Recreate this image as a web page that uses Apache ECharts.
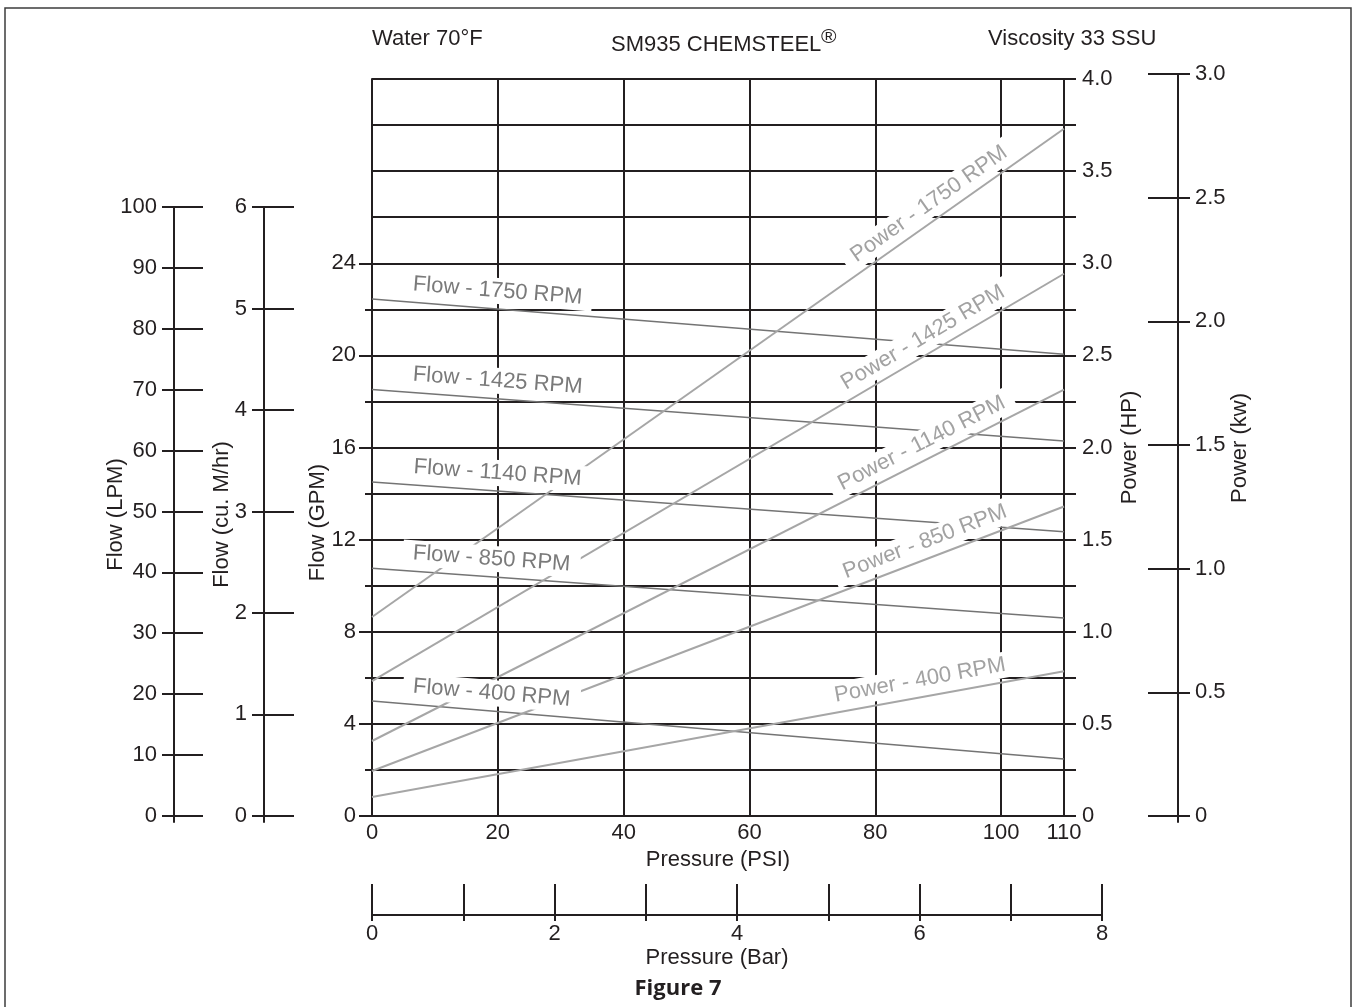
<!DOCTYPE html>
<html><head><meta charset="utf-8">
<script src="https://cdn.jsdelivr.net/npm/echarts@6/dist/echarts.min.js"></script>
<style>html,body{margin:0;padding:0;background:#fff}#c{width:1359px;height:1007px}</style>
</head><body><div id="c"></div>
<script>
// ---------- data ----------
const pressurePSI = [0, 110];
const rpmNames = ['1750', '1425', '1140', '850', '400'];
const flow1750 = [22.45, 20.05];
const flow1425 = [18.52, 16.28];
const flow1140 = [14.5, 12.34];
const flow850 = [10.76, 8.6];
const flow400 = [4.99, 2.47];
const power1750 = [1.08, 3.73];
const power1425 = [0.732, 2.943];
const power1140 = [0.407, 2.314];
const power850 = [0.244, 1.68];
const power400 = [0.103, 0.786];

const gpmLabels = [0, 4, 8, 12, 16, 20, 24];
const gpmMinorTicks = [2, 6, 10, 14, 18, 22];
const hpLabels = [0, 0.5, 1, 1.5, 2, 2.5, 3, 3.5, 4];
const psiLabels = [0, 20, 40, 60, 80, 100, 110];
const lpmLabels = [0, 10, 20, 30, 40, 50, 60, 70, 80, 90, 100];
const cumLabels = [0, 1, 2, 3, 4, 5, 6];
const kwLabels = [0, 0.5, 1, 1.5, 2, 2.5, 3];
const barTicks = [0, 1, 2, 3, 4, 5, 6, 7, 8];
const barLabels = [0, 2, 4, 6, 8];

// ---------- style / layout ----------
const FONT = "'Liberation Sans', Arial, Helvetica, sans-serif";
const INK = '#231f20';
const FLOW_COLOR = '#747474';
const POWER_COLOR = '#a6a6a6';
const FLOW_TEXT = '#7a7a7a';
const POWER_TEXT = '#a2a2a2';
const flowLabelAlong = [125, 125, 125, 119, 119];   // px along the line from its start
const powerLabelAlong = [-156, -156, -153, -144, -144]; // px along the line from its end

const flowSets = [flow1750, flow1425, flow1140, flow850, flow400];
const powerSets = [power1750, power1425, power1140, power850, power400];

function pts(vals) { return pressurePSI.map((p, i) => [p, vals[i]]); }
function fmt1(v) { return v === 0 ? '0' : v.toFixed(1); }

const axisText = { color: INK, fontSize: 22, fontFamily: FONT };
const lineSty = { color: INK, width: 2 };
const axLine = { show: true, onZero: false, lineStyle: lineSty };
const noLine = { show: false, onZero: false };

const chart = echarts.init(document.getElementById('c'), null, { renderer: 'canvas' });

function hiddenX(g) { return { gridIndex: g, type: 'value', show: false, min: 0, max: 1, axisLine: noLine }; }
function yName(text, gap, extra) {
  return { name: text, nameLocation: 'middle', nameRotate: 90, nameGap: gap, nameMoveOverlap: false,
    nameTextStyle: Object.assign({}, axisText, extra || {}) };
}

const option = {
  animation: false,
  backgroundColor: '#fff',
  grid: [
    { left: 372, right: 295, top: 79, bottom: 191, outerBoundsMode: 'none' },
    { left: 174, width: 40, top: 207, bottom: 185, outerBoundsMode: 'none' },
    { left: 264, width: 40, top: 207, bottom: 185, outerBoundsMode: 'none' },
    { left: 1100, right: 181, top: 74, bottom: 185, outerBoundsMode: 'none' },
    { left: 372, right: 257, top: 880, bottom: 92, outerBoundsMode: 'none' }
  ],
  xAxis: [
    { gridIndex: 0, type: 'value', min: 0, max: 110, interval: 20,
      axisLine: noLine, axisTick: { show: false },
      axisLabel: Object.assign({}, axisText, { margin: 6, customValues: psiLabels }),
      splitLine: { show: true, lineStyle: lineSty },
      name: 'Pressure (PSI)', nameLocation: 'middle', nameGap: 33, nameMoveOverlap: false, nameTextStyle: axisText },
    hiddenX(1), hiddenX(2), hiddenX(3),
    { gridIndex: 4, type: 'value', min: 0, max: 8, position: 'bottom',
      axisLine: axLine,
      axisTick: { show: true, inside: true, length: 31, customValues: barTicks, lineStyle: lineSty },
      axisLabel: Object.assign({}, axisText, { margin: 8, customValues: barLabels }),
      splitLine: { show: false },
      name: 'Pressure (Bar)', nameLocation: 'middle', nameGap: 32, nameMoveOverlap: false,
      nameTextStyle: Object.assign({}, axisText, { padding: [0, 40, 0, 0] }) },
    { gridIndex: 4, type: 'value', min: 0, max: 8, position: 'bottom',
      axisLine: noLine,
      axisTick: { show: true, inside: false, length: 6, customValues: barTicks, lineStyle: lineSty },
      axisLabel: { show: false }, splitLine: { show: false } }
  ],
  yAxis: [
    // 0: Flow (GPM)
    Object.assign({ gridIndex: 0, type: 'value', position: 'left', min: 0, max: 32, interval: 4,
      axisLine: axLine,
      axisTick: { show: true, length: 13, customValues: gpmLabels, lineStyle: lineSty },
      axisLabel: Object.assign({}, axisText, { margin: 16, customValues: gpmLabels }),
      splitLine: { show: false } }, yName('Flow (GPM)', 43, { padding: [0, 150, 0, 0] })),
    // 1: GPM minor ticks
    { gridIndex: 0, type: 'value', position: 'left', min: 0, max: 32, interval: 2,
      axisLine: noLine,
      axisTick: { show: true, length: 7, customValues: gpmMinorTicks, lineStyle: lineSty },
      axisLabel: { show: false }, splitLine: { show: false } },
    // 2: Power (HP)
    Object.assign({ gridIndex: 0, type: 'value', position: 'right', min: 0, max: 4, interval: 0.25,
      axisLine: axLine,
      axisTick: { show: true, length: 12, lineStyle: lineSty },
      axisLabel: Object.assign({}, axisText, { margin: 18, customValues: hpLabels, formatter: fmt1 }),
      splitLine: { show: true, lineStyle: lineSty } }, yName('Power (HP)', 55)),
    // 3: Flow (LPM)
    Object.assign({ gridIndex: 1, type: 'value', position: 'left', min: -1, max: 100,
      axisLine: axLine,
      axisTick: { show: true, length: 12, customValues: lpmLabels, lineStyle: lineSty },
      axisLabel: Object.assign({}, axisText, { margin: 17, customValues: lpmLabels }),
      splitLine: { show: false } }, yName('Flow (LPM)', 47)),
    // 4: LPM inner ticks
    { gridIndex: 1, type: 'value', position: 'left', min: -1, max: 100,
      axisLine: noLine,
      axisTick: { show: true, inside: true, length: 29, customValues: lpmLabels, lineStyle: lineSty },
      axisLabel: { show: false }, splitLine: { show: false } },
    // 5: Flow (cu. M/hr)
    Object.assign({ gridIndex: 2, type: 'value', position: 'left', min: -0.06, max: 6,
      axisLine: axLine,
      axisTick: { show: true, length: 12, customValues: cumLabels, lineStyle: lineSty },
      axisLabel: Object.assign({}, axisText, { margin: 17, customValues: cumLabels }),
      splitLine: { show: false } }, yName('Flow (cu. M/hr)', 31)),
    // 6: cu inner ticks
    { gridIndex: 2, type: 'value', position: 'left', min: -0.06, max: 6,
      axisLine: noLine,
      axisTick: { show: true, inside: true, length: 30, customValues: cumLabels, lineStyle: lineSty },
      axisLabel: { show: false }, splitLine: { show: false } },
    // 7: Power (kw)
    Object.assign({ gridIndex: 3, type: 'value', position: 'right', min: -0.024, max: 3,
      axisLine: axLine,
      axisTick: { show: true, length: 12, customValues: kwLabels, lineStyle: lineSty },
      axisLabel: Object.assign({}, axisText, { margin: 17, customValues: kwLabels, formatter: fmt1 }),
      splitLine: { show: false } }, yName('Power (kw)', 51)),
    // 8: kw inner ticks
    { gridIndex: 3, type: 'value', position: 'right', min: -0.024, max: 3,
      axisLine: noLine,
      axisTick: { show: true, inside: true, length: 30, customValues: kwLabels, lineStyle: lineSty },
      axisLabel: { show: false }, splitLine: { show: false } },
    // 9: hidden for bar grid
    { gridIndex: 4, type: 'value', show: false, min: 0, max: 1, axisLine: noLine }
  ],
  graphic: [
    { type: 'rect', silent: true, z: -10, shape: { x: 5, y: 8, width: 1346, height: 1040 },
      style: { fill: 'none', stroke: '#3c3c3c', lineWidth: 1.5 } },
    { type: 'text', x: 372, y: 39, silent: true,
      style: { text: 'Water 70°F', fontSize: 22, fontFamily: FONT, fill: INK, textAlign: 'left', textVerticalAlign: 'middle' } },
    { type: 'text', x: 611, y: 45, silent: true,
      style: { text: 'SM935 CHEMSTEEL', fontSize: 22, fontFamily: FONT, fill: INK, textAlign: 'left', textVerticalAlign: 'middle' } },
    { type: 'text', x: 821, y: 37, silent: true,
      style: { text: '®', fontSize: 21, fontFamily: FONT, fill: INK, textAlign: 'left', textVerticalAlign: 'middle' } },
    { type: 'text', x: 988, y: 39, silent: true,
      style: { text: 'Viscosity 33 SSU', fontSize: 22, fontFamily: FONT, fill: INK, textAlign: 'left', textVerticalAlign: 'middle' } },
    { type: 'text', x: 678, y: 989, silent: true,
      style: { text: 'Figure 7', fontSize: 22, fontWeight: 'bold', fontFamily: "'Open Sans', sans-serif", fill: INK, textAlign: 'center', textVerticalAlign: 'middle' } }
  ],
  series: []
};

// line series
flowSets.forEach((vals, i) => {
  option.series.push({ type: 'line', name: 'Flow - ' + rpmNames[i] + ' RPM', xAxisIndex: 0, yAxisIndex: 0,
    data: pts(vals), showSymbol: false, silent: true, z: 3,
    lineStyle: { color: FLOW_COLOR, width: 1.5 } });
});
powerSets.forEach((vals, i) => {
  option.series.push({ type: 'line', name: 'Power - ' + rpmNames[i] + ' RPM', xAxisIndex: 0, yAxisIndex: 2,
    data: pts(vals), showSymbol: false, silent: true, z: 3,
    lineStyle: { color: POWER_COLOR, width: 2 } });
});

chart.setOption(option);

function angleOf(vals, yAxisIndex) {
  const a = chart.convertToPixel({ xAxisIndex: 0, yAxisIndex: yAxisIndex }, [pressurePSI[0], vals[0]]);
  const b = chart.convertToPixel({ xAxisIndex: 0, yAxisIndex: yAxisIndex }, [pressurePSI[1], vals[1]]);
  return Math.atan2(a[1] - b[1], b[0] - a[0]) * 180 / Math.PI;
}

function labelSeries(vals, yAxisIndex, text, color, anchorIdx, along, dist) {
  const rot = angleOf(vals, yAxisIndex);
  const data = pts(vals).map((p, i) => {
    if (i !== anchorIdx) return { value: p };
    return { value: p, label: { show: true, formatter: text, position: 'top', distance: dist,
      rotate: rot, offset: [along, 0], color: color, fontSize: 22, fontFamily: FONT,
      lineHeight: 22, backgroundColor: '#ffffff', padding: [2, 10, 2, 10] } };
  });
  return { type: 'line', xAxisIndex: 0, yAxisIndex: yAxisIndex, data: data, z: 10, silent: true,
    showSymbol: true, symbol: 'circle', symbolSize: 2,
    itemStyle: { color: 'rgba(0,0,0,0)' }, lineStyle: { width: 0, opacity: 0 } };
}

const extra = [];
flowSets.forEach((vals, i) => extra.push(labelSeries(vals, 0, 'Flow - ' + rpmNames[i] + ' RPM', FLOW_TEXT, 0, flowLabelAlong[i], 4)));
powerSets.forEach((vals, i) => extra.push(labelSeries(vals, 2, 'Power - ' + rpmNames[i] + ' RPM', POWER_TEXT, 1, powerLabelAlong[i], 3)));
chart.setOption({ series: option.series.concat(extra) });
</script>
</body></html>
